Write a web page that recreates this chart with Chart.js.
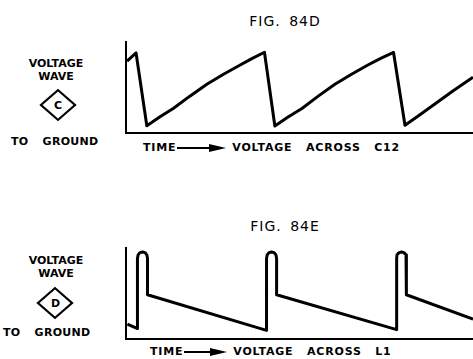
<!DOCTYPE html>
<html>
<head>
<meta charset="utf-8">
<script src="https://cdn.jsdelivr.net/npm/chart.js@4/dist/chart.umd.min.js"></script>
<style>
  body { margin: 0; background: #fff; }
  #page { position: relative; width: 473px; height: 359px; overflow: hidden; font-family: "DejaVu Sans", sans-serif; color: #000; }
  .abs { position: absolute; white-space: nowrap; }
  .fig { font-size: 14px; letter-spacing: 1px; word-spacing: 3px; transform: translateX(-50%); }
  .lbl { font-size: 11px; font-weight: bold; text-align: center; width: 112px; line-height: 13px; white-space: pre; }
  .ground { font-size: 11px; font-weight: bold; word-spacing: 10px; letter-spacing: 0.3px; }
  .diamond { width: 19px; height: 19px; border: 2.2px solid #000; transform: translate(-50%, -50%) scaleX(1.15) rotate(45deg); }
  .dletter { font-size: 11px; font-weight: bold; transform: translate(-50%, -50%); line-height: 11px; }
  .xcap { font-size: 11px; font-weight: bold; letter-spacing: 0.8px; word-spacing: 9px; }
  .arrow { display: inline-block; height: 2px; background: #000; vertical-align: middle; margin: 0 22px 0 1px; position: relative; }
  .arrow::after { content: ""; position: absolute; right: -16px; top: -3px; border-left: 17px solid #000; border-top: 4px solid transparent; border-bottom: 4px solid transparent; }
  canvas { position: absolute; }
</style>
</head>
<body>
<div id="page">
  <canvas id="chartC" width="353" height="100" style="left:120px; top:36px;"></canvas>
  <canvas id="chartD" width="353" height="100" style="left:120px; top:242px;"></canvas>
</div>
<script>
  // Figure texts
  const figTitles = ["FIG. 84D", "FIG. 84E"];
  const pointLetters = ["C", "D"];
  const xCaptions = ["VOLTAGE ACROSS C12", "VOLTAGE ACROSS L1"];

  // Fig. 84D: voltage across C12 (time and voltage in arbitrary units 0-100)
  const timeC = [0.3, 2.9, 6.0, 9.8, 13.6, 18.4, 23.3, 28.1, 32.9, 36.4, 39.9,
                 42.9, 46.7, 50.7, 55.4, 60.2, 65.0, 69.7, 73.4, 77.1,
                 80.4, 84.5, 88.6, 94.3, 100];
  const voltsC = [79, 88, 8, 17.8, 27, 40.5, 53.5, 64.5, 74.7, 82, 88.7,
                  7.7, 17.5, 27, 40.5, 53.5, 64.5, 74.7, 82, 88.5,
                  8.5, 19.5, 30.8, 46.5, 61.2];

  // Fig. 84E: voltage across L1
  const timeD = [0.4, 3.3, 3.3, 3.5, 4.0, 4.8, 5.5, 6.0, 6.2, 6.2,
                 40.5, 40.5, 40.7, 41.2, 41.9, 42.7, 43.2, 43.4, 43.4,
                 78.0, 78.0, 78.1, 78.7, 79.4, 80.1, 80.7, 80.8, 80.8, 100];
  const voltsD = [16.4, 11.5, 88.5, 92.5, 94.9, 95.6, 94.9, 92.5, 88.5, 48.6,
                  9.5, 88.5, 92.5, 94.9, 95.6, 94.9, 92.5, 88.5, 48.6,
                  10.3, 88.5, 92.5, 94.9, 95.6, 94.9, 92.5, 88.5, 48.6, 21.8];

  const page = document.getElementById("page");
  function addText(cls, text, left, top) {
    const el = document.createElement("div");
    el.className = "abs " + cls;
    el.textContent = text;
    el.style.left = left + "px";
    el.style.top = top + "px";
    page.appendChild(el);
    return el;
  }

  // Side labels and captions, one set per figure
  const layout = [
    { title: 13, label: 57, dx: 57.5, dy: 105, ground: [11, 135], cap: [143, 141], arrow: 33 },
    { title: 218, label: 254, dx: 55, dy: 303, ground: [3, 326], cap: [150, 345], arrow: 27 },
  ];
  layout.forEach((p, i) => {
    addText("fig", figTitles[i], 285, p.title);
    addText("lbl", "VOLTAGE\nWAVE", 0, p.label);
    const d = document.createElement("div");
    d.className = "abs diamond";
    d.style.left = p.dx + "px";
    d.style.top = p.dy + "px";
    page.appendChild(d);
    addText("dletter", pointLetters[i], p.dx + 0.5, p.dy);
    addText("ground", "TO GROUND", p.ground[0], p.ground[1]);
    const cap = document.createElement("div");
    cap.className = "abs xcap";
    cap.style.left = p.cap[0] + "px";
    cap.style.top = p.cap[1] + "px";
    cap.innerHTML = 'TIME<span class="arrow" style="width:' + p.arrow + 'px"></span>' + xCaptions[i];
    page.appendChild(cap);
  });

  function drawWave(id, times, volts) {
    const ctx = document.getElementById(id).getContext("2d");
    return new Chart(ctx, {
      type: "line",
      data: {
        datasets: [
          {
            data: times.map((t, i) => ({ x: t, y: volts[i] })),
            borderColor: "#000",
            borderWidth: 3,
            borderJoinStyle: "round",
            pointRadius: 0,
            tension: 0,
            fill: false,
            clip: false,
          },
        ],
      },
      options: {
        responsive: false,
        animation: false,
        layout: { padding: { left: 6, top: 6, right: 0, bottom: 3 } },
        plugins: { legend: { display: false }, tooltip: { enabled: false } },
        scales: {
          x: {
            type: "linear",
            min: 0,
            max: 100,
            ticks: { display: false },
            grid: { display: false, drawTicks: false },
            border: { display: true, color: "#000", width: 2 },
          },
          y: {
            min: 0,
            max: 100,
            ticks: { display: false },
            grid: { display: false, drawTicks: false },
            border: { display: true, color: "#000", width: 2 },
          },
        },
      },
    });
  }

  drawWave("chartC", timeC, voltsC);
  drawWave("chartD", timeD, voltsD);
</script>
</body>
</html>
